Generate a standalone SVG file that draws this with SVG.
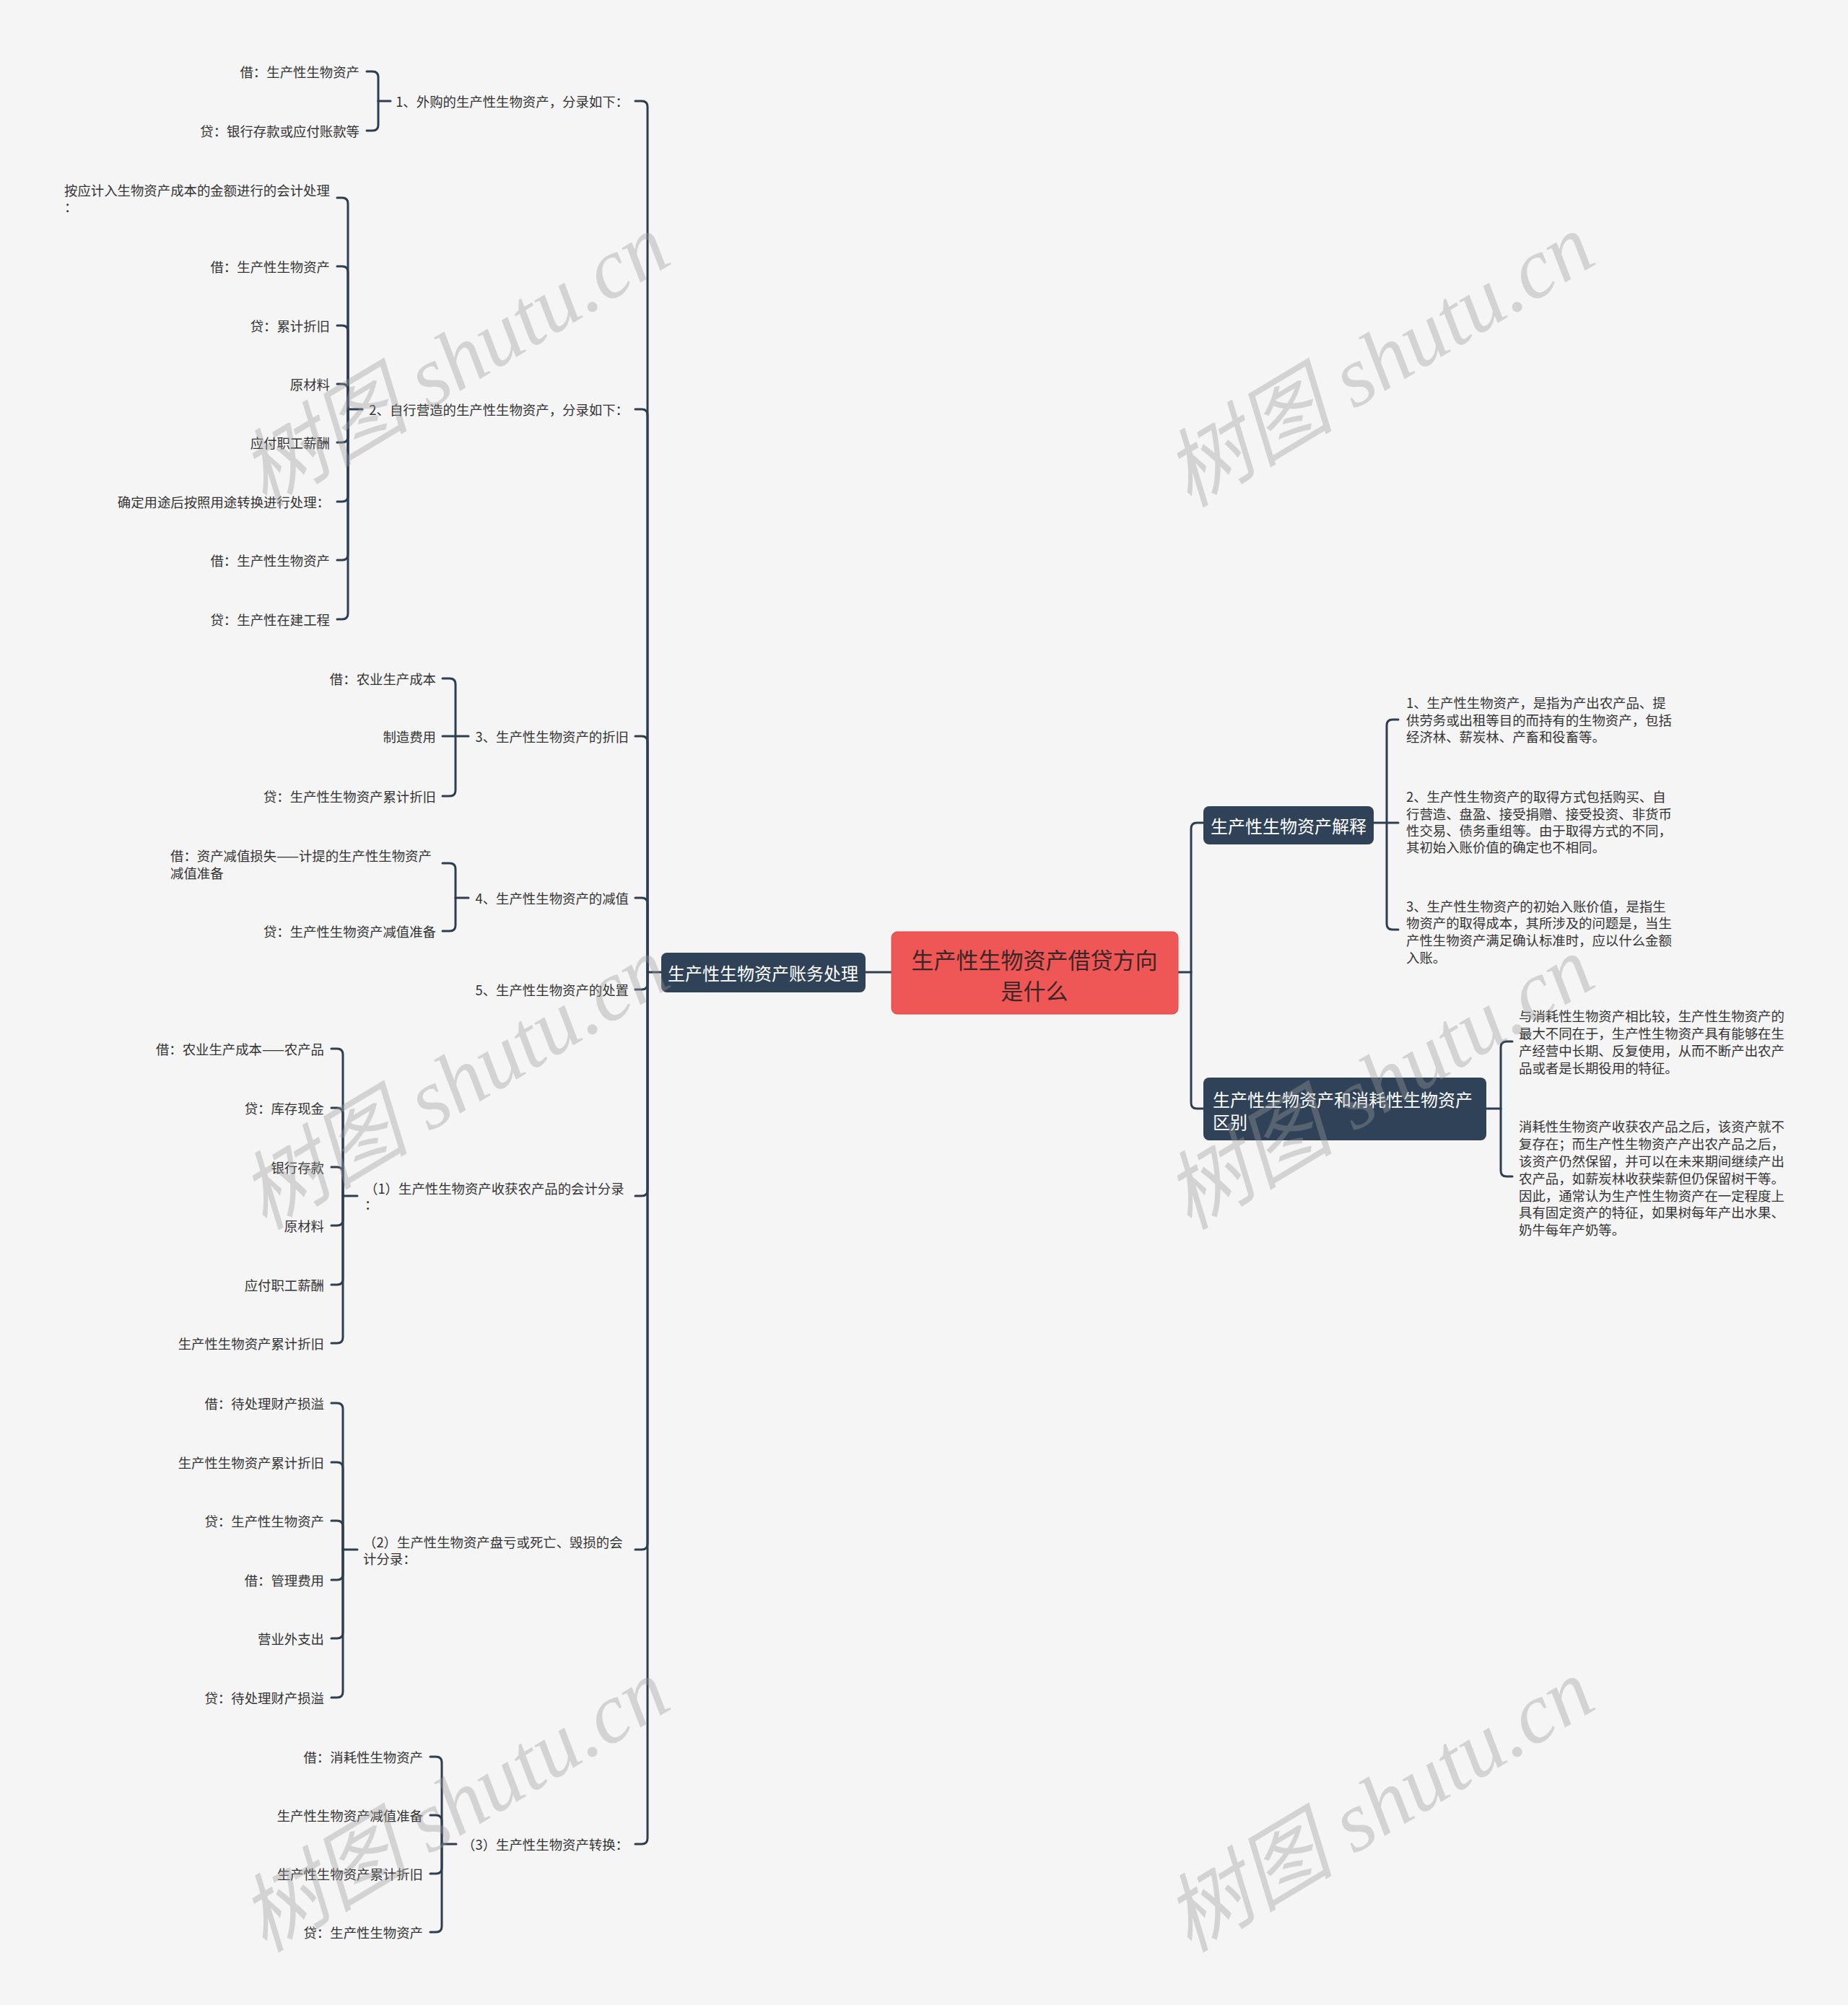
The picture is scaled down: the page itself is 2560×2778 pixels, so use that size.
<svg xmlns="http://www.w3.org/2000/svg" width="2560" height="2778" viewBox="0 0 2560 2778">
<style>
.t{font-family:"Noto Sans CJK SC","Noto Sans",sans-serif;font-size:18.4px;fill:#333;dominant-baseline:central}
.e{text-anchor:end}
.ln{fill:none;stroke:#2c3e50;stroke-width:3;stroke-linecap:round;stroke-linejoin:round}
.box{fill:#2f4257}
.bt{font-family:"Noto Sans CJK SC","Noto Sans",sans-serif;font-size:24px;fill:#ffffff;dominant-baseline:central}
.wm{font-family:"Liberation Serif","Noto Sans CJK SC",serif;font-style:italic;font-size:118px;fill:#9a9a9a;fill-opacity:0.38;text-anchor:middle;dominant-baseline:central}
</style>
<rect x="0" y="0" width="2560" height="2778" fill="#f5f5f5"/>

<g id="connectors">
<path class="ln" d="M1235 1347 H1199"/>
<path class="ln" d="M1632 1347 H1650"/>
<path class="ln" d="M916 1347 H897"/>
<path class="ln" d="M897 1347 V148 Q897 140 889 140 H880"/>
<path class="ln" d="M897 1347 V575 Q897 567 889 567 H880"/>
<path class="ln" d="M897 1347 V1028 Q897 1020 889 1020 H880"/>
<path class="ln" d="M897 1347 V1252 Q897 1244 889 1244 H880"/>
<path class="ln" d="M897 1347 V1363 Q897 1371 889 1371 H880"/>
<path class="ln" d="M897 1347 V1649 Q897 1657 889 1657 H880"/>
<path class="ln" d="M897 1347 V2139 Q897 2147 889 2147 H880"/>
<path class="ln" d="M897 1347 V2547 Q897 2555 889 2555 H880"/>
<path class="ln" d="M541 140 H524"/>
<path class="ln" d="M524 140 V107 Q524 99 516 99 H508"/>
<path class="ln" d="M524 140 V173 Q524 181 516 181 H508"/>
<path class="ln" d="M502 567 H482"/>
<path class="ln" d="M482 567 V282 Q482 274 474 274 H467"/>
<path class="ln" d="M482 567 V377 Q482 369 474 369 H467"/>
<path class="ln" d="M482 567 V459 Q482 451 474 451 H467"/>
<path class="ln" d="M482 567 V540 Q482 532 474 532 H467"/>
<path class="ln" d="M482 567 V605 Q482 613 474 613 H467"/>
<path class="ln" d="M482 567 V687 Q482 695 474 695 H467"/>
<path class="ln" d="M482 567 V768 Q482 776 474 776 H467"/>
<path class="ln" d="M482 567 V850 Q482 858 474 858 H467"/>
<path class="ln" d="M649 1020 H613"/>
<path class="ln" d="M631 1020 V948 Q631 940 623 940 H613"/>
<path class="ln" d="M631 1020 V1095 Q631 1103 623 1103 H613"/>
<path class="ln" d="M649 1244 H631"/>
<path class="ln" d="M631 1244 V1204 Q631 1196 623 1196 H613"/>
<path class="ln" d="M631 1244 V1282 Q631 1290 623 1290 H613"/>
<path class="ln" d="M495 1657 H475"/>
<path class="ln" d="M475 1657 V1461 Q475 1453 467 1453 H459"/>
<path class="ln" d="M475 1657 V1543 Q475 1535 467 1535 H459"/>
<path class="ln" d="M475 1657 V1625 Q475 1617 467 1617 H459"/>
<path class="ln" d="M475 1657 V1690 Q475 1698 467 1698 H459"/>
<path class="ln" d="M475 1657 V1772 Q475 1780 467 1780 H459"/>
<path class="ln" d="M475 1657 V1853 Q475 1861 467 1861 H459"/>
<path class="ln" d="M495 2147 H475"/>
<path class="ln" d="M475 2147 V1952 Q475 1944 467 1944 H459"/>
<path class="ln" d="M475 2147 V2034 Q475 2026 467 2026 H459"/>
<path class="ln" d="M475 2147 V2115 Q475 2107 467 2107 H459"/>
<path class="ln" d="M475 2147 V2181 Q475 2189 467 2189 H459"/>
<path class="ln" d="M475 2147 V2262 Q475 2270 467 2270 H459"/>
<path class="ln" d="M475 2147 V2344 Q475 2352 467 2352 H459"/>
<path class="ln" d="M632 2555 H612"/>
<path class="ln" d="M612 2555 V2442 Q612 2434 604 2434 H596"/>
<path class="ln" d="M612 2555 V2523 Q612 2515 604 2515 H596"/>
<path class="ln" d="M612 2555 V2588 Q612 2596 604 2596 H596"/>
<path class="ln" d="M612 2555 V2669 Q612 2677 604 2677 H596"/>
<path class="ln" d="M1650 1347 V1148 Q1650 1140 1658 1140 H1667"/>
<path class="ln" d="M1650 1347 V1528 Q1650 1536 1658 1536 H1667"/>
<path class="ln" d="M1903 1140 H1937"/>
<path class="ln" d="M1921 1140 V1005 Q1921 997 1929 997 H1937"/>
<path class="ln" d="M1921 1140 V1280 Q1921 1288 1929 1288 H1937"/>
<path class="ln" d="M2059 1536 H2079"/>
<path class="ln" d="M2079 1536 V1451 Q2079 1443 2087 1443 H2095"/>
<path class="ln" d="M2079 1536 V1622 Q2079 1630 2087 1630 H2095"/>
</g>

<g id="root">
<rect x="1235" y="1291" width="397" height="114" rx="8" fill="#ef5656" stroke="#e04a4a" stroke-width="1"/>
<text x="1433" y="1328" text-anchor="middle" style="font-family:'Noto Sans CJK SC',sans-serif;font-size:31px;fill:#3a2626;dominant-baseline:central">生产性生物资产借贷方向</text>
<text x="1433" y="1371" text-anchor="middle" style="font-family:'Noto Sans CJK SC',sans-serif;font-size:31px;fill:#3a2626;dominant-baseline:central">是什么</text>
</g>

<g id="n-left-main">
<rect class="box" x="916" y="1320" width="283" height="55" rx="8"/>
<text class="bt" x="1057" y="1347" text-anchor="middle">生产性生物资产账务处理</text>
</g>

<g id="n-right-1">
<rect class="box" x="1667" y="1117" width="236" height="53" rx="8"/>
<text class="bt" x="1785" y="1143" text-anchor="middle">生产性生物资产解释</text>
</g>

<g id="n-right-2">
<rect class="box" x="1667" y="1493" width="392" height="87" rx="8"/>
<text class="bt" x="1680" y="1522">生产性生物资产和消耗性生物资产</text>
<text class="bt" x="1680" y="1553">区别</text>
</g>

<g id="n-l2-1"><text class="t e" x="871" y="140">1、外购的生产性生物资产，分录如下：</text></g>
<g id="n-l2-2"><text class="t e" x="871" y="567">2、自行营造的生产性生物资产，分录如下：</text></g>
<g id="n-l2-3"><text class="t e" x="871" y="1020">3、生产性生物资产的折旧</text></g>
<g id="n-l2-4"><text class="t e" x="871" y="1244">4、生产性生物资产的减值</text></g>
<g id="n-l2-5"><text class="t e" x="871" y="1371">5、生产性生物资产的处置</text></g>
<g id="n-l2-6"><text class="t" x="505" y="1646">（1）生产性生物资产收获农产品的会计分录</text><text class="t" x="505" y="1668">：</text></g>
<g id="n-l2-7"><text class="t" x="503" y="2136">（2）生产性生物资产盘亏或死亡、毁损的会</text><text class="t" x="503" y="2159">计分录：</text></g>
<g id="n-l2-8"><text class="t e" x="871" y="2555">（3）生产性生物资产转换：</text></g>

<g id="n-c1">
<text class="t e" x="498" y="99">借：生产性生物资产</text>
<text class="t e" x="498" y="181">贷：银行存款或应付账款等</text>
</g>

<g id="n-c2">
<text class="t" x="89" y="263">按应计入生物资产成本的金额进行的会计处理</text>
<text class="t" x="89" y="286">：</text>
<text class="t e" x="457" y="369">借：生产性生物资产</text>
<text class="t e" x="457" y="451">贷：累计折旧</text>
<text class="t e" x="457" y="532">原材料</text>
<text class="t e" x="457" y="613">应付职工薪酬</text>
<text class="t e" x="457" y="695">确定用途后按照用途转换进行处理：</text>
<text class="t e" x="457" y="776">借：生产性生物资产</text>
<text class="t e" x="457" y="858">贷：生产性在建工程</text>
</g>

<g id="n-c3">
<text class="t e" x="604" y="940">借：农业生产成本</text>
<text class="t e" x="604" y="1020">制造费用</text>
<text class="t e" x="604" y="1103">贷：生产性生物资产累计折旧</text>
</g>

<g id="n-c4">
<text class="t" x="236" y="1185">借：资产减值损失——计提的生产性生物资产</text>
<text class="t" x="236" y="1209">减值准备</text>
<text class="t e" x="604" y="1290">贷：生产性生物资产减值准备</text>
</g>

<g id="n-c6">
<text class="t e" x="449" y="1453">借：农业生产成本——农产品</text>
<text class="t e" x="449" y="1535">贷：库存现金</text>
<text class="t e" x="449" y="1617">银行存款</text>
<text class="t e" x="449" y="1698">原材料</text>
<text class="t e" x="449" y="1780">应付职工薪酬</text>
<text class="t e" x="449" y="1861">生产性生物资产累计折旧</text>
</g>

<g id="n-c7">
<text class="t e" x="449" y="1944">借：待处理财产损溢</text>
<text class="t e" x="449" y="2026">生产性生物资产累计折旧</text>
<text class="t e" x="449" y="2107">贷：生产性生物资产</text>
<text class="t e" x="449" y="2189">借：管理费用</text>
<text class="t e" x="449" y="2270">营业外支出</text>
<text class="t e" x="449" y="2352">贷：待处理财产损溢</text>
</g>

<g id="n-c8">
<text class="t e" x="586" y="2434">借：消耗性生物资产</text>
<text class="t e" x="586" y="2515">生产性生物资产减值准备</text>
<text class="t e" x="586" y="2596">生产性生物资产累计折旧</text>
<text class="t e" x="586" y="2677">贷：生产性生物资产</text>
</g>

<g id="n-r1">
<text class="t" x="1948" y="973">1、生产性生物资产，是指为产出农产品、提</text>
<text class="t" x="1948" y="997">供劳务或出租等目的而持有的生物资产，包括</text>
<text class="t" x="1948" y="1020">经济林、薪炭林、产畜和役畜等。</text>
<text class="t" x="1948" y="1103">2、生产性生物资产的取得方式包括购买、自</text>
<text class="t" x="1948" y="1127">行营造、盘盈、接受捐赠、接受投资、非货币</text>
<text class="t" x="1948" y="1150">性交易、债务重组等。由于取得方式的不同，</text>
<text class="t" x="1948" y="1173">其初始入账价值的确定也不相同。</text>
<text class="t" x="1948" y="1255">3、生产性生物资产的初始入账价值，是指生</text>
<text class="t" x="1948" y="1278">物资产的取得成本，其所涉及的问题是，当生</text>
<text class="t" x="1948" y="1302">产性生物资产满足确认标准时，应以什么金额</text>
<text class="t" x="1948" y="1326">入账。</text>
</g>

<g id="n-r2">
<text class="t" x="2104" y="1407">与消耗性生物资产相比较，生产性生物资产的</text>
<text class="t" x="2104" y="1431">最大不同在于，生产性生物资产具有能够在生</text>
<text class="t" x="2104" y="1455">产经营中长期、反复使用，从而不断产出农产</text>
<text class="t" x="2104" y="1479">品或者是长期役用的特征。</text>
<text class="t" x="2104" y="1560">消耗性生物资产收获农产品之后，该资产就不</text>
<text class="t" x="2104" y="1584">复存在；而生产性生物资产产出农产品之后，</text>
<text class="t" x="2104" y="1608">该资产仍然保留，并可以在未来期间继续产出</text>
<text class="t" x="2104" y="1632">农产品，如薪炭林收获柴薪但仍保留树干等。</text>
<text class="t" x="2104" y="1656">因此，通常认为生产性生物资产在一定程度上</text>
<text class="t" x="2104" y="1679">具有固定资产的特征，如果树每年产出水果、</text>
<text class="t" x="2104" y="1703">奶牛每年产奶等。</text>
</g>

<g id="watermarks">
<text class="wm" transform="translate(630 500) rotate(-31)">树图 shutu.cn</text>
<text class="wm" transform="translate(1911 500) rotate(-31)">树图 shutu.cn</text>
<text class="wm" transform="translate(630 1501) rotate(-31)">树图 shutu.cn</text>
<text class="wm" transform="translate(1911 1501) rotate(-31)">树图 shutu.cn</text>
<text class="wm" transform="translate(630 2502) rotate(-31)">树图 shutu.cn</text>
<text class="wm" transform="translate(1911 2502) rotate(-31)">树图 shutu.cn</text>
</g>
</svg>
